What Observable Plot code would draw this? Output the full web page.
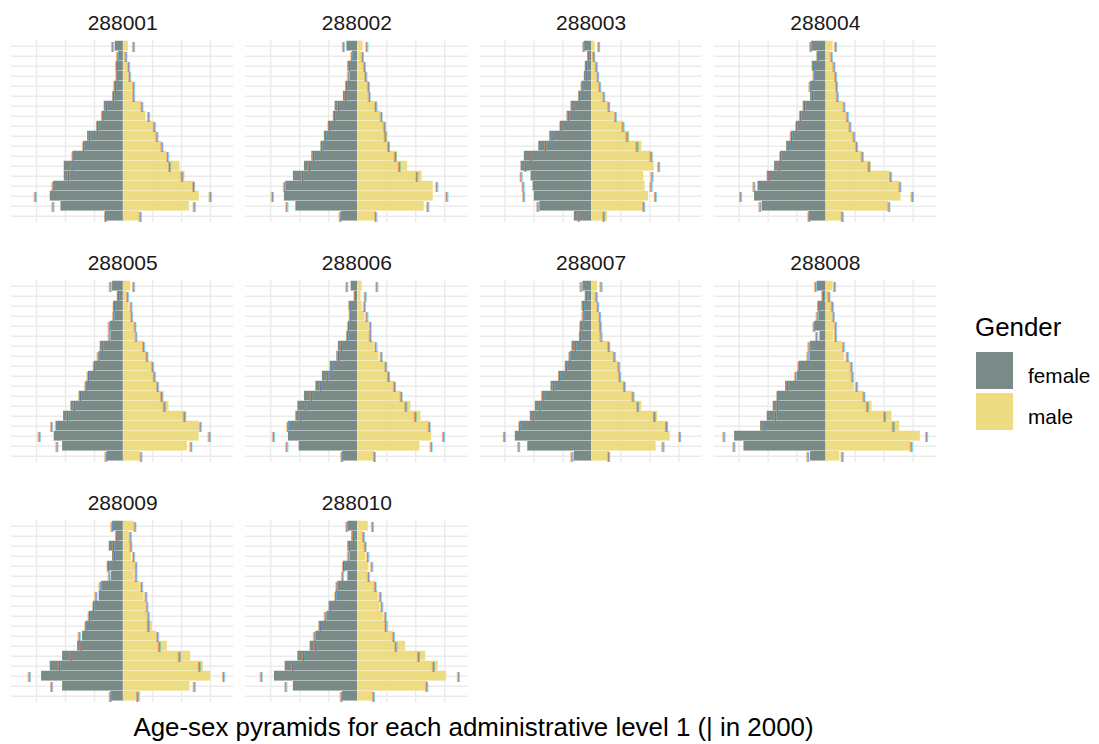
<!DOCTYPE html>
<html>
<head>
<meta charset="utf-8">
<script src="https://cdn.jsdelivr.net/npm/d3@7"></script>
<script src="https://cdn.jsdelivr.net/npm/@observablehq/plot@0.6"></script>
<style>
  body { margin: 0; background: #fff; font-family: "Liberation Sans", Arial, sans-serif; }
  #wrap { position: relative; width: 1099px; height: 744px; overflow: hidden; }
  #chart { position: absolute; left: 0; top: 0; }
  #caption { position: absolute; left: 0; width: 947px; top: 715px; text-align: center;
             font-size: 25.9px; line-height: 25.9px; color: #000; white-space: nowrap; }
  #legend-title { position: absolute; left: 975px; top: 315px; font-size: 25.9px; line-height: 25.9px; color: #000; }
  .key { position: absolute; left: 976px; width: 37px; height: 37px; }
  .lab { position: absolute; left: 1028px; font-size: 20.8px; line-height: 20.8px; color: #000; }
</style>
</head>
<body>
<div id="wrap">
  <div id="chart"></div>
  <div id="caption"></div>
  <div id="legend"></div>
</div>
<script>
// ---------- data ----------
const regions = ["288001","288002","288003","288004","288005","288006","288007","288008","288009","288010"];
// age groups, listed from the oldest (top row) to the youngest (bottom row)
const ageGroups = ["80+","75-79","70-74","65-69","60-64","55-59","50-54","45-49","40-44","35-39",
                   "30-34","25-29","20-24","15-19","10-14","5-9","1-4","<1"];
const sexes = ["female","male"];
const sexColors = ["#7a8a86","#eedc82"];
const caption = "Age-sex pyramids for each administrative level 1 (| in 2000)";
const legendTitle = "Gender";
// x grid breaks (population units)
const gridBreaks = [-261, -174, -87, 0, 87, 174, 261];

// bars: current population; ticks "|": population in 2000
const female_288001 = [25,15,22,20,28,32,58,65,80,108,120,152,178,178,210,220,188,55];
const male_288001   = [15,8,12,15,28,28,55,68,92,100,115,130,170,185,215,228,198,50];
const female2000_288001 = [33,18,20,20,25,30,52,62,78,102,120,152,155,165,212,265,212,54];
const male2000_288001   = [30,7,15,18,30,30,55,75,92,100,115,132,138,175,210,260,212,50];

const female_288002 = [33,16,30,23,36,43,68,73,88,100,110,138,160,193,216,220,186,50];
const male_288002   = [17,12,20,27,34,34,60,70,82,92,97,120,150,194,227,227,200,57];
const female2000_288002 = [43,18,26,28,33,38,58,70,86,96,108,133,146,166,220,256,213,53];
const male2000_288002   = [27,14,20,24,32,34,54,70,80,82,92,112,124,177,237,267,210,54];

const female_288003 = [23,13,20,23,30,40,63,75,95,127,160,203,213,183,177,173,157,53];
const male_288003   = [10,10,13,15,23,33,50,67,95,113,150,183,187,155,160,170,157,47];
const female2000_288003 = [25,10,17,17,30,37,57,70,93,120,140,183,200,213,207,205,163,40];
const male2000_288003   = [20,5,13,17,23,35,50,70,93,105,135,177,200,180,177,190,155,35];

const female_288004 = [44,27,42,35,47,47,69,79,89,105,119,137,155,177,205,215,192,52];
const male_288004   = [21,13,23,28,33,31,51,61,71,83,93,111,135,193,221,225,188,51];
const female2000_288004 = [47,25,37,37,49,42,65,77,89,105,115,137,142,172,217,257,199,52];
const male2000_288004   = [28,15,23,28,31,33,53,63,71,83,91,108,128,193,221,258,188,48];

const female_288005 = [33,18,30,28,40,38,70,73,88,106,113,133,158,180,203,208,183,50];
const male_288005   = [22,10,17,22,32,34,62,72,87,94,102,122,137,190,227,227,192,50];
const female2000_288005 = [40,16,28,30,43,43,63,76,88,106,113,130,148,168,216,253,200,53];
const male2000_288005   = [30,12,22,24,34,37,60,70,87,92,102,114,122,182,230,257,202,52];

const female_288006 = [20,10,26,23,28,33,58,63,83,106,126,160,180,186,208,208,176,46];
const male_288006   = [14,10,14,22,34,37,50,64,84,97,114,132,160,190,217,222,187,52];
const female2000_288006 = [33,8,23,23,28,30,50,58,78,90,113,140,156,173,210,253,213,48];
const male2000_288006   = [57,22,20,27,37,37,54,70,84,92,110,130,144,172,214,257,220,50];

const female_288007 = [27,20,30,25,35,37,60,65,80,100,123,150,170,185,217,230,193,53];
const male_288007   = [17,13,15,20,27,27,53,67,80,85,100,125,150,197,230,235,193,53];
const female2000_288007 = [33,17,25,27,33,35,50,67,77,97,115,147,157,177,217,263,220,60];
const male2000_288007   = [27,13,17,23,25,27,50,67,80,83,97,123,137,187,223,263,213,50];

const female_288008 = [27,12,25,22,35,19,47,49,82,87,122,147,159,177,197,275,247,47];
const male_288008   = [21,11,21,18,25,23,48,55,73,78,85,115,138,198,221,283,255,41];
const female2000_288008 = [32,9,22,27,37,29,52,55,82,92,117,145,147,152,187,307,277,55];
const male2000_288008   = [25,8,18,21,28,28,51,63,75,78,91,113,123,175,201,301,255,48];

const female_288009 = [33,23,43,33,48,36,66,73,90,103,113,123,138,183,220,246,183,38];
const male_288009   = [32,17,22,24,34,32,50,62,67,72,87,100,132,202,240,262,200,52];
const female2000_288009 = [35,20,30,28,46,43,70,83,90,103,113,133,128,158,193,283,216,40];
const male2000_288009   = [34,20,22,30,37,37,54,67,70,74,74,102,107,167,227,300,212,42];

const female_288010 = [30,18,30,23,43,30,60,66,86,93,116,126,143,180,218,250,193,46];
const male_288010   = [32,17,24,24,34,30,54,62,67,77,94,107,144,204,242,267,210,47];
const female2000_288010 = [33,13,26,28,43,46,63,66,83,98,113,130,128,163,196,290,216,50];
const male2000_288010   = [44,17,22,30,42,32,52,67,72,82,84,107,114,182,227,302,207,47];

// ---------- tables built from the arrays ----------
const current = {
  "288001": [female_288001, male_288001], "288002": [female_288002, male_288002],
  "288003": [female_288003, male_288003], "288004": [female_288004, male_288004],
  "288005": [female_288005, male_288005], "288006": [female_288006, male_288006],
  "288007": [female_288007, male_288007], "288008": [female_288008, male_288008],
  "288009": [female_288009, male_288009], "288010": [female_288010, male_288010]
};
const year2000 = {
  "288001": [female2000_288001, male2000_288001], "288002": [female2000_288002, male2000_288002],
  "288003": [female2000_288003, male2000_288003], "288004": [female2000_288004, male2000_288004],
  "288005": [female2000_288005, male2000_288005], "288006": [female2000_288006, male2000_288006],
  "288007": [female2000_288007, male2000_288007], "288008": [female2000_288008, male2000_288008],
  "288009": [female2000_288009, male2000_288009], "288010": [female2000_288010, male2000_288010]
};

const NCOL = 4;
const panels = regions.map((r, i) => ({region: r, col: i % NCOL, row: Math.floor(i / NCOL)}));

function longTable(src) {
  const out = [];
  for (const p of panels) {
    sexes.forEach((s, k) => {
      src[p.region][k].forEach((v, j) => {
        out.push({...p, sex: s, age: ageGroups[j], value: v, x: s === "female" ? -v : v});
      });
    });
  }
  return out;
}
const bars = longTable(current);
const ticks2000 = longTable(year2000);
const gridX = panels.flatMap(p => gridBreaks.map(t => ({...p, t})));
const gridY = panels.flatMap(p => ageGroups.map(a => ({...p, age: a})));

const GRID = "#ebebeb";
const facet = {fx: "col", fy: "row"};

const chart = Plot.plot({
  width: 950,
  height: 710,
  marginLeft: 11,
  marginRight: 14,
  marginTop: 39.7,
  marginBottom: 8.3,
  style: {fontFamily: "'Liberation Sans', Arial, sans-serif", background: "white"},
  fx: {domain: [0, 1, 2, 3], paddingInner: 0.0508, paddingOuter: 0, round: false, axis: null},
  fy: {domain: [0, 1, 2], paddingInner: 0.2417, paddingOuter: 0, round: false, axis: null},
  x: {domain: [-336, 331], axis: null},
  y: {domain: ageGroups, padding: 0, paddingInner: 0, paddingOuter: 0, round: false,
      insetTop: 1, insetBottom: 1, axis: null},
  color: {domain: sexes, range: sexColors},
  marks: [
    Plot.ruleX(gridX, {x: "t", ...facet, stroke: GRID, strokeWidth: 1.4}),
    Plot.ruleY(gridY, {y: "age", ...facet, stroke: GRID, strokeWidth: 1.4}),
    Plot.barX(bars, {x1: () => 0, x2: "x", y: "age", fill: "sex", ...facet,
                     stroke: "white", strokeWidth: 0.2}),
    Plot.text(ticks2000, {x: "x", y: "age", text: () => "|", ...facet, fontSize: 11,
                          fill: "#f0a060", fillOpacity: 0.85, dx: -0.9}),
    Plot.text(ticks2000, {x: "x", y: "age", text: () => "|", ...facet, fontSize: 11,
                          fill: "#60b8f0", fillOpacity: 0.85, dx: 0.9}),
    Plot.text(ticks2000, {x: "x", y: "age", text: () => "|", ...facet, fontSize: 11,
                          fill: "#555", fillOpacity: 0.8}),
    Plot.text(panels, {text: "region", ...facet, frameAnchor: "top", lineAnchor: "bottom",
                       dy: -10.2, fontSize: 21, fill: "#1a1a1a"})
  ]
});
document.getElementById("chart").append(chart);

document.getElementById("caption").textContent = caption;

// legend (HTML, next to the SVG)
const legend = document.getElementById("legend");
const title = document.createElement("div");
title.id = "legend-title";
title.textContent = legendTitle;
legend.append(title);
const keyTops = [352, 393];
const labTops = [366.4, 407.4];
sexes.forEach((s, i) => {
  const k = document.createElement("div");
  k.className = "key";
  k.style.top = keyTops[i] + "px";
  k.style.background = sexColors[i];
  legend.append(k);
  const l = document.createElement("div");
  l.className = "lab";
  l.style.top = labTops[i] + "px";
  l.textContent = s;
  legend.append(l);
});
</script>
</body>
</html>
